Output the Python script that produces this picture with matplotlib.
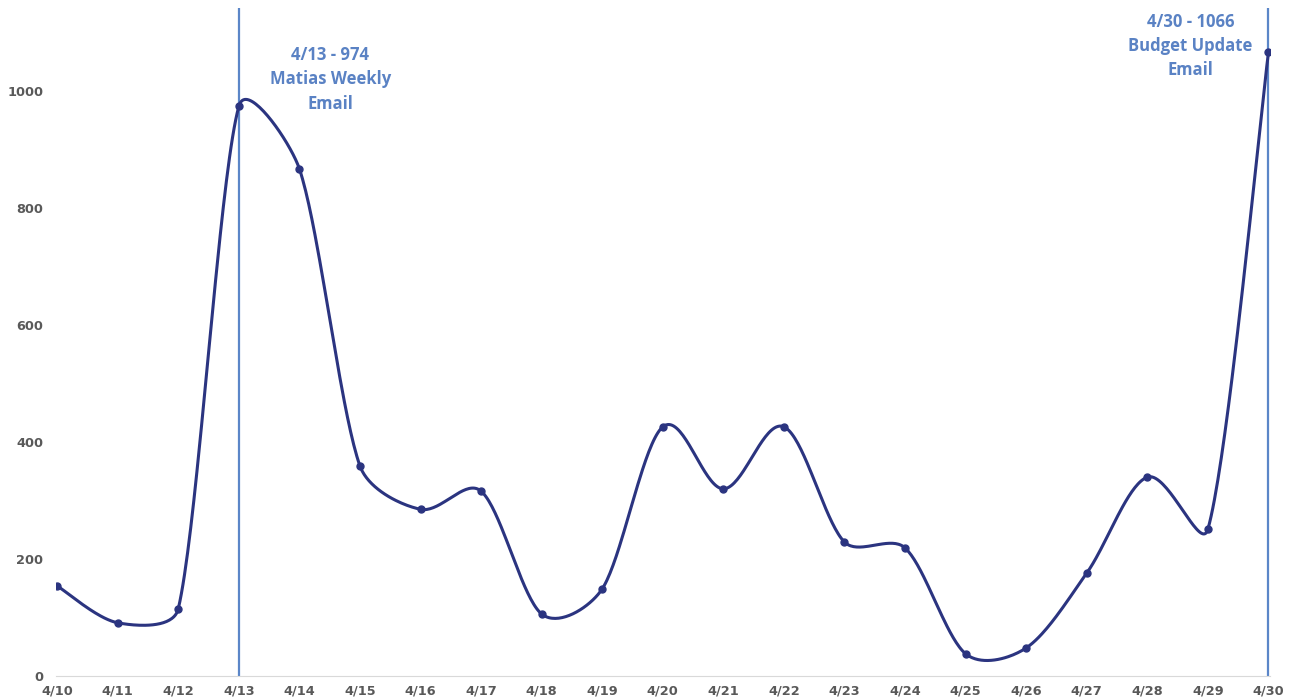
import matplotlib.pyplot as plt
import numpy as np

# daily values
days = ["4/10", "4/11", "4/12", "4/13", "4/14", "4/15", "4/16", "4/17", "4/18", "4/19",
        "4/20", "4/21", "4/22", "4/23", "4/24", "4/25", "4/26", "4/27", "4/28", "4/29", "4/30"]
views = [154, 91, 115, 974, 867, 359, 285, 316, 106, 149,
         426, 320, 426, 229, 219, 38, 48, 176, 340, 251, 1066]

events = [3, 20]
event_labels = ["4/13 - 974\nMatias Weekly\nEmail", "4/30 - 1066\nBudget Update\nEmail"]
label_pos = [(4.51, 1020), (18.71, 1077)]

line_col = "#2B3480"
event_col = "#5B86C8"
text_col = "#5A82C4"
tick_col = "#595959"


def smooth(x, y, sx=60.7, sy=0.585, k=0.33, n=40):
    # smoothed line like excel: catmull-rom bezier in screen units,
    # control arms capped so short segments don't overshoot
    p = np.column_stack([np.asarray(x, float) * sx, np.asarray(y, float) * sy])
    m = len(p)
    tan = np.zeros_like(p)
    for i in range(m):
        a = p[max(i - 1, 0)]
        b = p[min(i + 1, m - 1)]
        tan[i] = (b - a) / 6
    t = np.linspace(0, 1, n)[:, None]
    out = []
    for i in range(m - 1):
        L = np.hypot(*(p[i + 1] - p[i]))
        a1 = tan[i]
        a2 = tan[i + 1]
        n1 = np.hypot(*a1)
        n2 = np.hypot(*a2)
        if n1 > k * L:
            a1 = a1 / n1 * k * L
        if n2 > k * L:
            a2 = a2 / n2 * k * L
        c1 = p[i] + a1
        c2 = p[i + 1] - a2
        b = (1 - t) ** 3 * p[i] + 3 * (1 - t) ** 2 * t * c1 + 3 * (1 - t) * t ** 2 * c2 + t ** 3 * p[i + 1]
        out.append(b)
    out = np.vstack(out)
    return out[:, 0] / sx, out[:, 1] / sy


fig = plt.figure(figsize=(12.89, 6.98), dpi=100)
ax = fig.add_axes([0.0434, 0.0315, 0.9416, 0.957])

x = np.arange(len(days))
cx, cy = smooth(x, views)
ax.plot(cx, cy, color=line_col, lw=2.2, zorder=3)
ax.plot(x, views, "o", color=line_col, ms=5, zorder=4)

for e in events:
    ax.axvline(e, color=event_col, lw=1.6, zorder=2)

for (lx, ly), txt in zip(label_pos, event_labels):
    ax.text(lx, ly, txt, ha="center", va="center", color=text_col,
            fontsize=12, fontweight="bold", family="Open Sans", linespacing=1.45)

ax.set_xlim(-0.02, 20.02)
ax.set_ylim(0, 1142)
ax.set_xticks(x)
ax.set_xticklabels(days)
ax.set_yticks([0, 200, 400, 600, 800, 1000])

for s in ["top", "right", "left"]:
    ax.spines[s].set_visible(False)
ax.spines["bottom"].set_color("#D9D9D9")
ax.tick_params(length=0, labelsize=9.3, labelcolor=tick_col, pad=9)
ax.tick_params(axis="x", pad=6)
for lab in ax.get_xticklabels() + ax.get_yticklabels():
    lab.set_fontweight("bold")
    lab.set_family("DejaVu Sans")

fig.savefig("out.png", dpi=100)
